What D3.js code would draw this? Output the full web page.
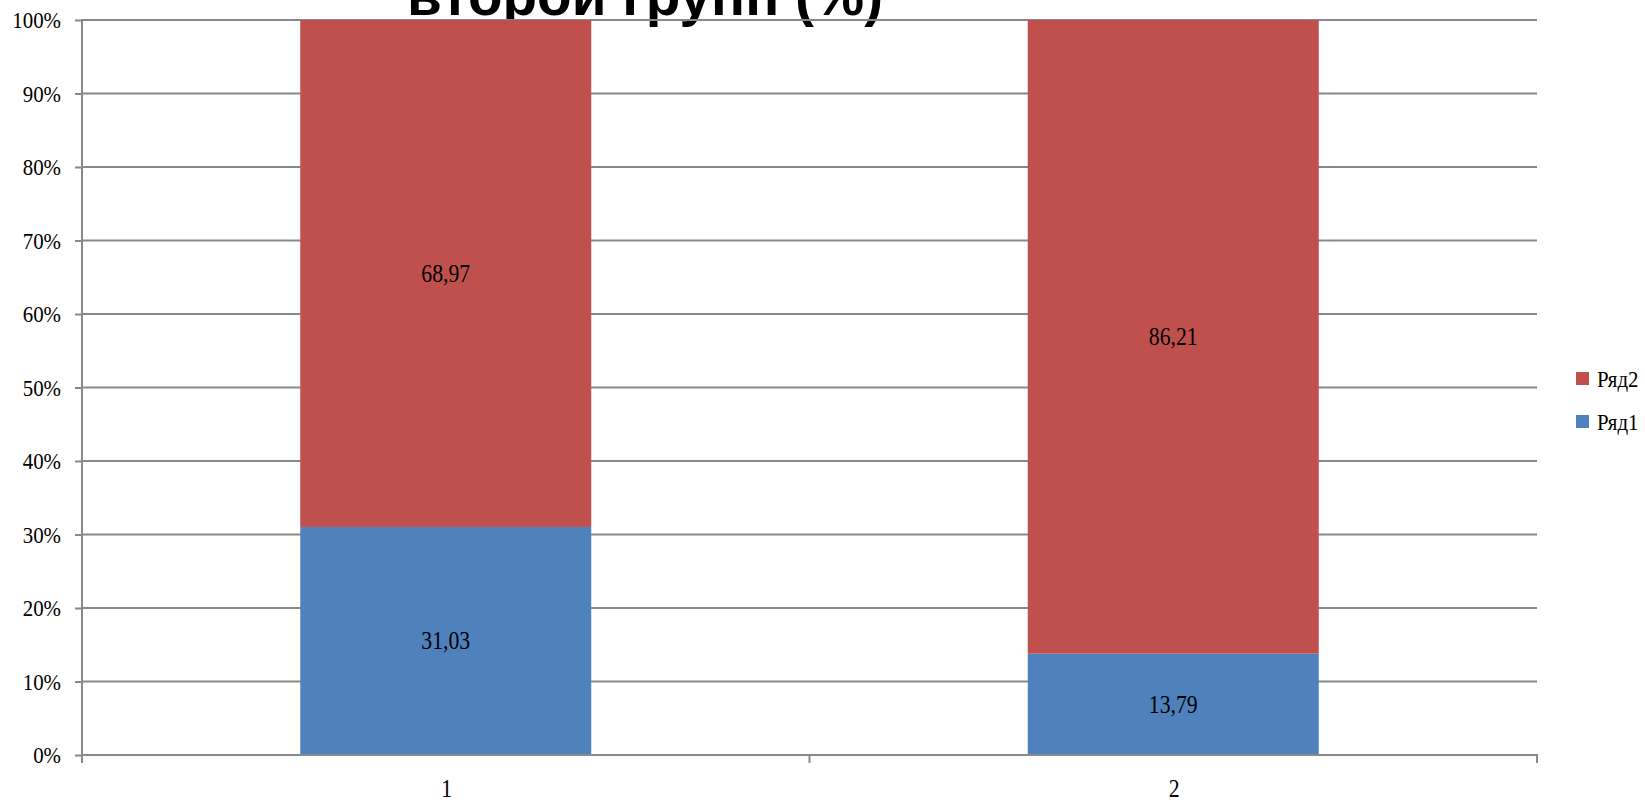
<!DOCTYPE html>
<html>
<head>
<meta charset="utf-8">
<script src="https://cdn.jsdelivr.net/npm/d3@7"></script>
<style>
  html, body { margin: 0; padding: 0; background: #fff; }
  svg { display: block; }
</style>
</head>
<body>
<svg id="chart" width="1645" height="803"></svg>
<script>
// Chart data
const categories = ["1", "2"];
const seriesNames = ["Ряд1", "Ряд2"];
const row1 = [31.03, 13.79];
const row2 = [68.97, 86.21];
const yTicks = [0, 10, 20, 30, 40, 50, 60, 70, 80, 90, 100];
const titleText = "второй групп (%)";

const colors = { "Ряд1": "#4F81BD", "Ряд2": "#C0504D" };
const gridColor = "#898989";
const serif = "'Liberation Serif', 'Times New Roman', serif";
const squeeze = 0.87; // narrow serif look

const svg = d3.select("#chart");
const plot = { left: 82, right: 1537, top: 20, bottom: 755 };

// Title (bottom line of a wrapped heading, partially above the frame)
svg.append("text")
  .attr("x", 407).attr("y", 15)
  .attr("textLength", 476)
  .attr("lengthAdjust", "spacingAndGlyphs")
  .style("font-family", "'Liberation Sans', Arial, sans-serif")
  .style("font-weight", "bold")
  .style("font-size", "58px")
  .attr("fill", "#000")
  .text(titleText);

const x = d3.scaleBand().domain(categories).range([plot.left, plot.right]).padding(0);
const y = d3.scaleLinear().domain([0, 100]).range([plot.bottom, plot.top]);

// Stack data as percentages of each column
const rows = categories.map((c, i) => {
  const total = row1[i] + row2[i];
  return { cat: c, "Ряд1": row1[i] / total * 100, "Ряд2": row2[i] / total * 100 };
});
const stacked = d3.stack().keys(seriesNames)(rows);

// Horizontal gridlines
svg.append("g").selectAll("line").data(yTicks.slice(1)).join("line")
  .attr("x1", plot.left).attr("x2", plot.right)
  .attr("y1", d => y(d)).attr("y2", d => y(d))
  .attr("stroke", gridColor).attr("stroke-width", 2);

// Bars
const barW = x.bandwidth() * 0.4;
const gBars = svg.append("g");
stacked.forEach(layer => {
  gBars.selectAll(null).data(layer).join("rect")
    .attr("x", d => x(d.data.cat) + (x.bandwidth() - barW) / 2)
    .attr("width", barW)
    .attr("y", d => y(d[1]))
    .attr("height", d => y(d[0]) - y(d[1]))
    .attr("fill", colors[layer.key]);
});

// Helper to place condensed serif text
function label(g, tx, ty, str, size, anchor) {
  g.append("text")
    .attr("transform", `translate(${tx},${ty}) scale(${squeeze},1)`)
    .attr("text-anchor", anchor)
    .style("font-family", serif)
    .style("font-size", size + "px")
    .attr("fill", "#000")
    .text(str);
}

// Value labels centred in each segment
const gLabels = svg.append("g");
stacked.forEach(layer => {
  layer.forEach((d, i) => {
    const raw = layer.key === "Ряд1" ? row1[i] : row2[i];
    const cy = (y(d[0]) + y(d[1])) / 2;
    label(gLabels, x(d.data.cat) + x.bandwidth() / 2, cy + 8.5, d3.format(".2f")(raw).replace(".", ","), 25, "middle");
  });
});

// Y axis
const yAxis = svg.append("g").attr("transform", `translate(${plot.left},0)`)
  .call(d3.axisLeft(y).tickValues(yTicks).tickSize(7).tickFormat(() => ""));
yAxis.select(".domain").remove();
yAxis.selectAll(".tick line").attr("stroke", gridColor).attr("stroke-width", 2);
svg.append("line")
  .attr("x1", plot.left).attr("x2", plot.left)
  .attr("y1", plot.top - 1).attr("y2", plot.bottom + 8)
  .attr("stroke", gridColor).attr("stroke-width", 2);
const gYLab = svg.append("g");
yTicks.forEach(t => label(gYLab, 61, y(t) + 8, t + "%", 24, "end"));

// X axis
svg.append("line")
  .attr("x1", plot.left).attr("x2", plot.right + 1)
  .attr("y1", plot.bottom).attr("y2", plot.bottom)
  .attr("stroke", gridColor).attr("stroke-width", 2);
const xTickPos = categories.map(c => x(c)).concat([plot.right]);
svg.append("g").selectAll("line").data(xTickPos).join("line")
  .attr("x1", d => d).attr("x2", d => d)
  .attr("y1", plot.bottom).attr("y2", plot.bottom + 8)
  .attr("stroke", gridColor).attr("stroke-width", 2);
const gXLab = svg.append("g");
categories.forEach(c => label(gXLab, x(c) + x.bandwidth() / 2 + 1, 797, c, 25, "middle"));

// Legend (series listed top-down in reverse stacking order)
const legend = svg.append("g");
seriesNames.slice().reverse().forEach((s, i) => {
  const ly = 372 + i * 43;
  legend.append("rect").attr("x", 1576).attr("y", ly).attr("width", 13).attr("height", 13).attr("fill", colors[s]);
  label(legend, 1597, ly + 15, s, 24, "start");
});
</script>
</body>
</html>
